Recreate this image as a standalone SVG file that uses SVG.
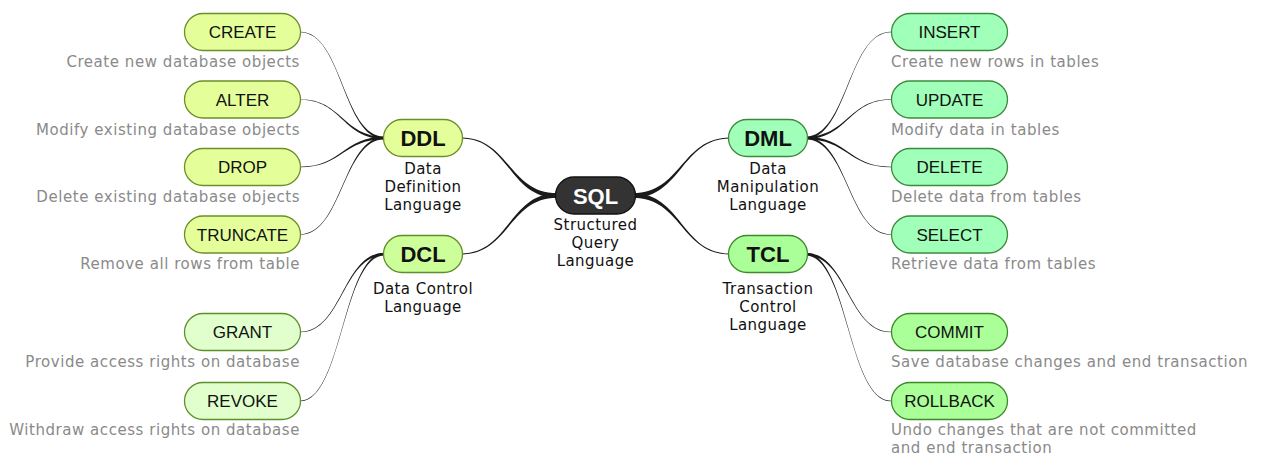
<svg xmlns="http://www.w3.org/2000/svg" width="1261" height="456" viewBox="0 0 1261 456">
<style>
.conn{fill:#1a1a1a;stroke:none}
.box{stroke-width:1.3}
.ddl{fill:#e4ff99;stroke:#6b8f2a}
.dcl{fill:#ccff99;stroke:#5f8f2a}
.dcll{fill:#e0ffcc;stroke:#5f8f2a}
.dml{fill:#a0ffb8;stroke:#3c8a3c}
.tcl{fill:#aaff99;stroke:#3c8a2a}
.sql{fill:#333333;stroke:#111111}
.lt{font-family:"Liberation Sans",Arial,sans-serif;font-size:17px;fill:#111;text-anchor:middle}
.bt{font-family:"Liberation Sans",Arial,sans-serif;font-size:22px;font-weight:bold;fill:#111;text-anchor:middle}
.st{font-family:"Liberation Sans",Arial,sans-serif;font-size:22px;font-weight:bold;fill:#fff;text-anchor:middle}
.lab{font-family:"DejaVu Sans",Verdana,sans-serif;font-size:15px;letter-spacing:0.45px;fill:#111;text-anchor:middle}
.dl{font-family:"DejaVu Sans",Verdana,sans-serif;font-size:15px;letter-spacing:0.55px;fill:#8a8a8a;text-anchor:end}
.dr{font-family:"DejaVu Sans",Verdana,sans-serif;font-size:15px;letter-spacing:0.55px;fill:#8a8a8a;text-anchor:start}
</style>
<rect width="1261" height="456" fill="#ffffff"/>
<g id="connectors">
<path class="conn" d="M557,193.2 C509,193.2 509,137.5 461,137.5 L461,138.5 C509,138.5 509,197.8 557,197.8Z"/>
<path class="conn" d="M557,193.2 C509,193.2 509,253.5 461,253.5 L461,254.5 C509,254.5 509,197.8 557,197.8Z"/>
<path class="conn" d="M633,193.2 C681.5,193.2 681.5,137.5 730,137.5 L730,138.5 C681.5,138.5 681.5,197.8 633,197.8Z"/>
<path class="conn" d="M633,193.2 C681.5,193.2 681.5,253.5 730,253.5 L730,254.5 C681.5,254.5 681.5,197.8 633,197.8Z"/>
<path class="conn" d="M385,136.7 C342.5,136.7 342.5,31.65 300,31.65 L300,32.35 C342.5,32.35 342.5,139.3 385,139.3Z"/>
<path class="conn" d="M385,136.7 C342.5,136.7 342.5,99.15 300,99.15 L300,99.85 C342.5,99.85 342.5,139.3 385,139.3Z"/>
<path class="conn" d="M385,136.7 C342.5,136.7 342.5,166.65 300,166.65 L300,167.35 C342.5,167.35 342.5,139.3 385,139.3Z"/>
<path class="conn" d="M385,136.7 C342.5,136.7 342.5,234.15 300,234.15 L300,234.85 C342.5,234.85 342.5,139.3 385,139.3Z"/>
<path class="conn" d="M385,252.7 C342.5,252.7 342.5,331.65 300,331.65 L300,332.35 C342.5,332.35 342.5,255.3 385,255.3Z"/>
<path class="conn" d="M385,252.7 C342.5,252.7 342.5,400.65 300,400.65 L300,401.35 C342.5,401.35 342.5,255.3 385,255.3Z"/>
<path class="conn" d="M805,136.7 C848,136.7 848,31.65 891,31.65 L891,32.35 C848,32.35 848,139.3 805,139.3Z"/>
<path class="conn" d="M805,136.7 C848,136.7 848,99.15 891,99.15 L891,99.85 C848,99.85 848,139.3 805,139.3Z"/>
<path class="conn" d="M805,136.7 C848,136.7 848,166.65 891,166.65 L891,167.35 C848,167.35 848,139.3 805,139.3Z"/>
<path class="conn" d="M805,136.7 C848,136.7 848,234.15 891,234.15 L891,234.85 C848,234.85 848,139.3 805,139.3Z"/>
<path class="conn" d="M805,252.7 C848,252.7 848,331.65 891,331.65 L891,332.35 C848,332.35 848,255.3 805,255.3Z"/>
<path class="conn" d="M805,252.7 C848,252.7 848,400.65 891,400.65 L891,401.35 C848,401.35 848,255.3 805,255.3Z"/>
</g>
<g id="sql">
<rect class="box sql" x="555.5" y="177" width="80" height="37" rx="18.5"/>
<text class="st" x="595.5" y="203.5">SQL</text>
<text class="lab" x="595.5" y="230">Structured</text>
<text class="lab" x="595.5" y="248">Query</text>
<text class="lab" x="595.5" y="266">Language</text>
</g>
<g id="ddl">
<rect class="box ddl" x="383.5" y="119.5" width="79" height="37" rx="18.5"/>
<text class="bt" x="423" y="146">DDL</text>
<text class="lab" x="423" y="174">Data</text>
<text class="lab" x="423" y="192">Definition</text>
<text class="lab" x="423" y="210">Language</text>
</g>
<g id="dcl">
<rect class="box dcl" x="383.5" y="235.5" width="79" height="37" rx="18.5"/>
<text class="bt" x="423" y="262">DCL</text>
<text class="lab" x="423" y="294">Data Control</text>
<text class="lab" x="423" y="312">Language</text>
</g>
<g id="dml">
<rect class="box dml" x="728.5" y="119.5" width="79" height="37" rx="18.5"/>
<text class="bt" x="768" y="146">DML</text>
<text class="lab" x="768" y="174">Data</text>
<text class="lab" x="768" y="192">Manipulation</text>
<text class="lab" x="768" y="210">Language</text>
</g>
<g id="tcl">
<rect class="box tcl" x="728.5" y="235.5" width="79" height="37" rx="18.5"/>
<text class="bt" x="768" y="262">TCL</text>
<text class="lab" x="768" y="294">Transaction</text>
<text class="lab" x="768" y="312">Control</text>
<text class="lab" x="768" y="330">Language</text>
</g>
<g id="create">
<rect class="box ddl" x="184.5" y="13.5" width="116" height="37" rx="18.5"/>
<text class="lt" x="242.5" y="38">CREATE</text>
<text class="dl" x="300" y="67">Create new database objects</text>
</g>
<g id="alter">
<rect class="box ddl" x="184.5" y="81" width="116" height="37" rx="18.5"/>
<text class="lt" x="242.5" y="105.5">ALTER</text>
<text class="dl" x="300" y="135">Modify existing database objects</text>
</g>
<g id="drop">
<rect class="box ddl" x="184.5" y="148.5" width="116" height="37" rx="18.5"/>
<text class="lt" x="242.5" y="173">DROP</text>
<text class="dl" x="300" y="202">Delete existing database objects</text>
</g>
<g id="truncate">
<rect class="box ddl" x="184.5" y="216" width="116" height="37" rx="18.5"/>
<text class="lt" x="242.5" y="240.5">TRUNCATE</text>
<text class="dl" x="300" y="269">Remove all rows from table</text>
</g>
<g id="grant">
<rect class="box dcll" x="184.5" y="313.5" width="116" height="37" rx="18.5"/>
<text class="lt" x="242.5" y="338">GRANT</text>
<text class="dl" x="300" y="367">Provide access rights on database</text>
</g>
<g id="revoke">
<rect class="box dcll" x="184.5" y="382.5" width="116" height="37" rx="18.5"/>
<text class="lt" x="242.5" y="407">REVOKE</text>
<text class="dl" x="300" y="435">Withdraw access rights on database</text>
</g>
<g id="insert">
<rect class="box dml" x="891.5" y="13.5" width="116" height="37" rx="18.5"/>
<text class="lt" x="949.5" y="38">INSERT</text>
<text class="dr" x="891" y="67">Create new rows in tables</text>
</g>
<g id="update">
<rect class="box dml" x="891.5" y="81" width="116" height="37" rx="18.5"/>
<text class="lt" x="949.5" y="105.5">UPDATE</text>
<text class="dr" x="891" y="135">Modify data in tables</text>
</g>
<g id="delete">
<rect class="box dml" x="891.5" y="148.5" width="116" height="37" rx="18.5"/>
<text class="lt" x="949.5" y="173">DELETE</text>
<text class="dr" x="891" y="202">Delete data from tables</text>
</g>
<g id="select">
<rect class="box dml" x="891.5" y="216" width="116" height="37" rx="18.5"/>
<text class="lt" x="949.5" y="240.5">SELECT</text>
<text class="dr" x="891" y="269">Retrieve data from tables</text>
</g>
<g id="commit">
<rect class="box tcl" x="891.5" y="313.5" width="116" height="37" rx="18.5"/>
<text class="lt" x="949.5" y="338">COMMIT</text>
<text class="dr" x="891" y="367">Save database changes and end transaction</text>
</g>
<g id="rollback">
<rect class="box tcl" x="891.5" y="382.5" width="116" height="37" rx="18.5"/>
<text class="lt" x="949.5" y="407">ROLLBACK</text>
<text class="dr" x="891" y="435">Undo changes that are not committed</text>
<text class="dr" x="891" y="452.5">and end transaction</text>
</g>
</svg>
